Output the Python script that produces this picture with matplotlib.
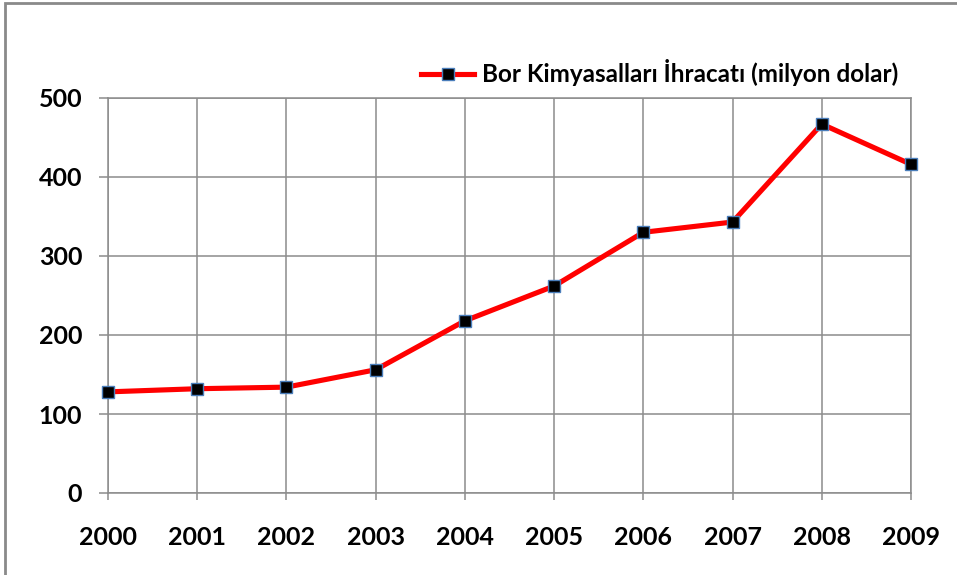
import matplotlib
matplotlib.use("Agg")
import matplotlib.pyplot as plt
from matplotlib.patches import Rectangle

years = [2000, 2001, 2002, 2003, 2004, 2005, 2006, 2007, 2008, 2009]
exports = [128, 132, 134, 156, 218, 262, 330, 343, 467, 416]
yticks = [0, 100, 200, 300, 400, 500]
series_label = "Bor Kimyasalları İhracatı (milyon dolar)"

W, H = 957, 575
fig = plt.figure(figsize=(W / 100, H / 100), dpi=100)
fig.patch.set_facecolor("white")

# outer chart border (left & top visible)
fig.patches.append(Rectangle((5 / W, -0.1), 1.2, 1 - 3 / H + 0.1, transform=fig.transFigure,
                             fill=False, edgecolor="#8a8a8a", linewidth=2))

x0, x1 = 108, 911
y0, y1 = 98, 493
ax = fig.add_axes([x0 / W, 1 - y1 / H, (x1 - x0) / W, (y1 - y0) / H])
grid_c = "#8c8c8c"

ax.plot(years, exports, color="#ff0000", linewidth=3.7, marker="s", markersize=9,
        markerfacecolor="black", markeredgecolor="#4a7ebb", markeredgewidth=1.0,
        clip_on=False, zorder=5, label=series_label)

ax.set_xlim(years[0], years[-1])
ax.set_ylim(0, 500)
ax.set_xticks(years)
ax.set_yticks(yticks)
ax.grid(True, color=grid_c, linewidth=1.1)
for s in ax.spines.values():
    s.set_color(grid_c)
    s.set_linewidth(1.1)
ax.tick_params(axis="both", colors=grid_c, width=1.1)
ax.tick_params(axis="y", length=6.5, pad=12)
ax.tick_params(axis="x", length=5, pad=19)

fam = ["Lato", "DejaVu Sans"]
for lab in ax.get_xticklabels() + ax.get_yticklabels():
    lab.set_fontfamily(fam)
    lab.set_fontweight("bold")
    lab.set_fontsize(18)
    lab.set_color("black")

leg = ax.legend(loc="center right", bbox_to_anchor=(898 / W, 1 - 73 / H),
                bbox_transform=fig.transFigure, frameon=False,
                handlelength=2.2, handletextpad=0.3, borderpad=0, borderaxespad=0,
                prop=dict(family=fam, weight="bold", size=17.5))

fig.savefig("out.png", dpi=100, facecolor="white")
